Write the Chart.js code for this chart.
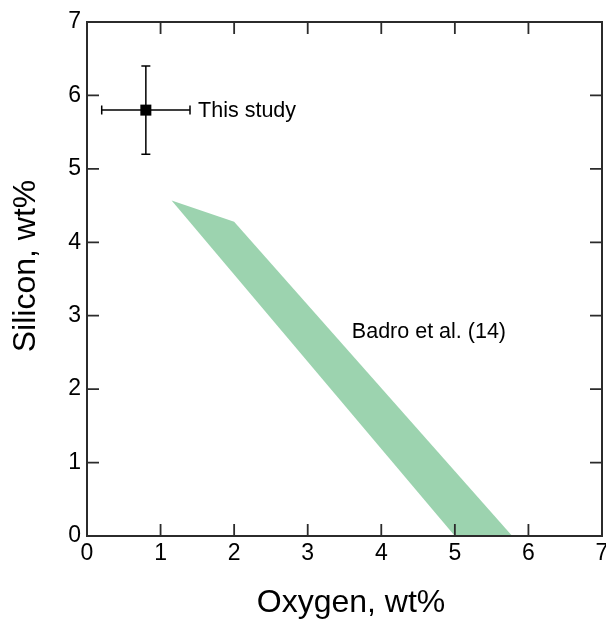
<!DOCTYPE html>
<html>
<head>
<meta charset="utf-8">
<script src="https://cdn.jsdelivr.net/npm/chart.js@4"></script>
<style>
  html, body { margin: 0; padding: 0; background: #ffffff; }
  #wrap { width: 606px; height: 621px; }
</style>
</head>
<body>
<div id="wrap"><canvas id="c" width="606" height="621"></canvas></div>
<script>
// ---- data ----
const xTickValues = [0, 1, 2, 3, 4, 5, 6, 7];
const yTickValues = [0, 1, 2, 3, 4, 5, 6, 7];
const xTitle = 'Oxygen, wt%';
const yTitle = 'Silicon, wt%';

const studyX = [0.8];
const studyY = [5.8];
const studyXErr = [0.2, 1.4];   // low, high
const studyYErr = [5.2, 6.4];   // low, high
const studyLabel = 'This study';
const studyLabelPos = [1.51, 5.8];

const badroX = [1.15, 2.0, 5.78, 5.0];
const badroY = [4.57, 4.28, 0.0, 0.0];
const badroLabel = 'Badro et al. (14)';
const badroLabelPos = [3.6, 2.79];

const FONT = '"Liberation Sans", Arial, Helvetica, sans-serif';

const framePlugin = {
  id: 'frame',
  afterDatasetsDraw(chart) {
    const ctx = chart.ctx;
    const a = chart.chartArea;
    const xs = chart.scales.x, ys = chart.scales.y;
    ctx.save();
    // error bars
    ctx.strokeStyle = '#000';
    ctx.lineWidth = 1.5;
    const cx = xs.getPixelForValue(studyX[0]);
    const cy = ys.getPixelForValue(studyY[0]);
    const xl = xs.getPixelForValue(studyXErr[0]);
    const xh = xs.getPixelForValue(studyXErr[1]);
    const yl = ys.getPixelForValue(studyYErr[0]);
    const yh = ys.getPixelForValue(studyYErr[1]);
    const cap = 4.5;
    ctx.beginPath();
    ctx.moveTo(xl, cy); ctx.lineTo(xh, cy);
    ctx.moveTo(xl, cy - cap); ctx.lineTo(xl, cy + cap);
    ctx.moveTo(xh, cy - cap); ctx.lineTo(xh, cy + cap);
    ctx.moveTo(cx, yl); ctx.lineTo(cx, yh);
    ctx.moveTo(cx - cap, yl); ctx.lineTo(cx + cap, yl);
    ctx.moveTo(cx - cap, yh); ctx.lineTo(cx + cap, yh);
    ctx.stroke();
    // square marker on top
    ctx.fillStyle = '#000';
    ctx.fillRect(cx - 5.5, cy - 5.5, 11, 11);

    // annotations
    ctx.fillStyle = '#000';
    ctx.font = '21.5px ' + FONT;
    ctx.textAlign = 'left';
    ctx.textBaseline = 'middle';
    ctx.fillText(studyLabel, xs.getPixelForValue(studyLabelPos[0]), ys.getPixelForValue(studyLabelPos[1]) + 1);
    ctx.fillText(badroLabel, xs.getPixelForValue(badroLabelPos[0]), ys.getPixelForValue(badroLabelPos[1]) + 1);

    // frame
    ctx.strokeStyle = '#2b2b2b';
    ctx.lineWidth = 2;
    ctx.strokeRect(a.left, a.top, a.right - a.left, a.bottom - a.top);
    // inward ticks
    const tl = 12;
    ctx.lineWidth = 1.8;
    ctx.beginPath();
    xs.ticks.forEach(t => {
      const p = xs.getPixelForValue(t.value);
      if (p <= a.left + 1 || p >= a.right - 1) return;
      ctx.moveTo(p, a.bottom); ctx.lineTo(p, a.bottom - tl);
      ctx.moveTo(p, a.top); ctx.lineTo(p, a.top + tl);
    });
    ys.ticks.forEach(t => {
      const p = ys.getPixelForValue(t.value);
      if (p <= a.top + 1 || p >= a.bottom - 1) return;
      ctx.moveTo(a.left, p); ctx.lineTo(a.left + tl, p);
      ctx.moveTo(a.right, p); ctx.lineTo(a.right - tl, p);
    });
    ctx.stroke();

    // axis titles
    ctx.fillStyle = '#000';
    ctx.font = '32px ' + FONT;
    ctx.textAlign = 'center';
    ctx.textBaseline = 'middle';
    ctx.fillText(xTitle, 351, 603);
    ctx.save();
    ctx.translate(26, 266);
    ctx.rotate(-Math.PI / 2);
    ctx.fillText(yTitle, 0, 0);
    ctx.restore();
    ctx.restore();
  }
};

new Chart(document.getElementById('c'), {
  type: 'scatter',
  data: {
    datasets: [
      {
        type: 'line',
        data: badroX.map((x, i) => ({ x: x, y: badroY[i] })),
        borderWidth: 0,
        borderColor: 'rgba(0,0,0,0)',
        backgroundColor: '#9cd3af',
        fill: 'shape',
        pointRadius: 0,
        tension: 0
      },
      {
        data: studyX.map((x, i) => ({ x: x, y: studyY[i] })),
        pointStyle: 'rect',
        pointRadius: 0,
        backgroundColor: '#000'
      }
    ]
  },
  options: {
    responsive: false,
    animation: false,
    devicePixelRatio: 1,
    layout: { padding: { top: 22, right: 4, left: 0, bottom: 0 } },
    plugins: { legend: { display: false }, tooltip: { enabled: false } },
    scales: {
      x: {
        type: 'linear',
        min: 0, max: 7,
        afterBuildTicks: s => { s.ticks = xTickValues.map(v => ({ value: v })); },
        afterFit: s => { s.height = 85; s.paddingLeft = 0; s.paddingRight = 0; },
        grid: { display: false, drawTicks: false },
        border: { display: false },
        ticks: { color: '#000', font: { family: FONT, size: 23 }, padding: 4, maxRotation: 0, autoSkip: false }
      },
      y: {
        type: 'linear',
        min: 0, max: 7,
        afterBuildTicks: s => { s.ticks = yTickValues.map(v => ({ value: v })); },
        afterFit: s => { s.width = 87; s.paddingTop = 0; s.paddingBottom = 0; },
        grid: { display: false, drawTicks: false },
        border: { display: false },
        ticks: { color: '#000', font: { family: FONT, size: 23 }, padding: 6, autoSkip: false }
      }
    }
  },
  plugins: [framePlugin]
});
</script>
</body>
</html>
